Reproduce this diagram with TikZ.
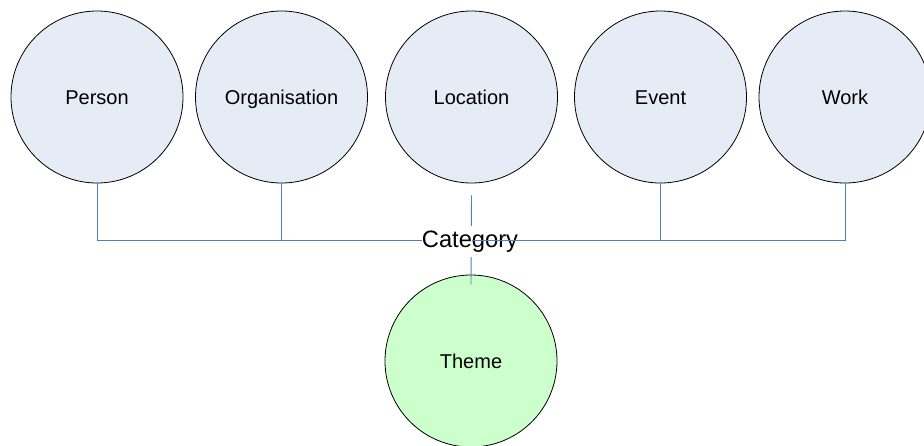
\documentclass[tikz,border=0pt]{standalone}
\usepackage{fontspec}
\setmainfont{Liberation Sans}
\begin{document}
\begin{tikzpicture}[x=1pt,y=-1pt,
  ent/.style={circle,draw=black,line width=0.8pt,fill=entfill,minimum size=172pt,inner sep=0pt,text height=18pt,text depth=4pt,font=\fontsize{20}{22}\selectfont},
  theme/.style={ent,fill=themefill},
  bus/.style={draw=busblue,line width=0.9pt},
  catlabel/.style={fill=white,inner xsep=0pt,inner ysep=0pt,text height=17pt,text depth=5pt,minimum height=31pt,font=\fontsize{23.7}{26}\selectfont}
]
\definecolor{entfill}{HTML}{E6ECF6}
\definecolor{themefill}{HTML}{CCFFCC}
\definecolor{busblue}{HTML}{4F7FC0}
\useasboundingbox (0,0) rectangle (924,445);
\clip (0,0) rectangle (924,445);
\node[ent] (person) at (97,97) {Person};
\node[ent] (org) at (281.5,97) {Organisation};
\node[ent] (loc) at (471.5,97) {Location};
\node[ent] (event) at (660.5,97) {Event};
\node[ent] (work) at (845,97) {Work};
\node[theme] (theme) at (471,361) {Theme};
\coordinate (bus) at (0,240);
\coordinate (locA) at ([yshift=-12pt]loc.south);
\coordinate (locB) at ([yshift=-10pt]theme.north);
\draw[bus] (person.south) -- (person.south |- bus) -- (work.south |- bus) -- (work.south);
\draw[bus] (org.south) -- (org.south |- bus);
\draw[bus] (event.south) -- (event.south |- bus);
\draw[bus] (locA) -- (locB);
\node[catlabel] (cat) at (470,241) {Category};
\draw[bus] (loc.south |- bus) -- (work.south |- bus);
\end{tikzpicture}
\end{document}
